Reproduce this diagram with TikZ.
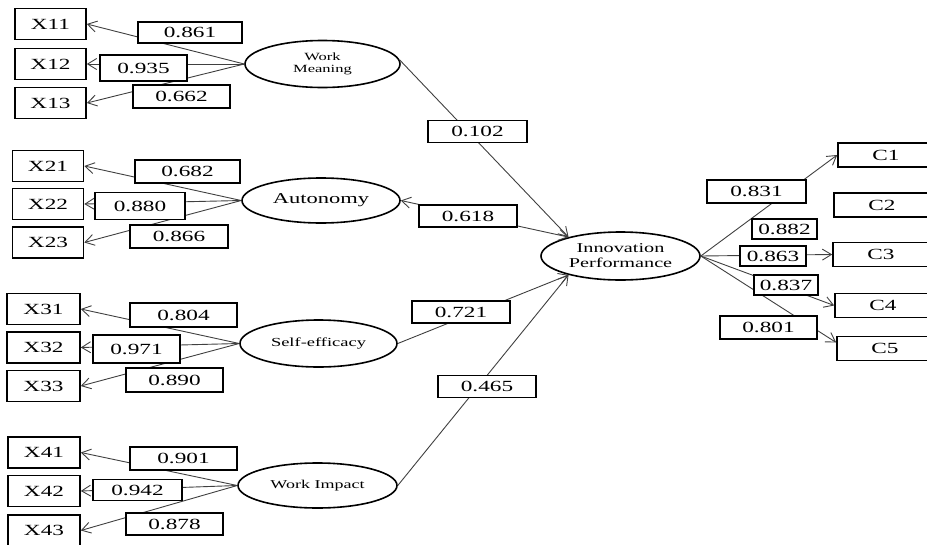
\documentclass[tikz,border=0pt]{standalone}
\usepackage{fontspec}
\setmainfont{Liberation Serif}[FakeStretch=1.5]
\usetikzlibrary{shapes.geometric,arrows.meta}

\tikzset{
  >={Straight Barb[length=9pt,width=11pt]},
  conn/.style={draw=black!75, line width=0.9pt, ->},
  itembox/.style={draw, line width=1.6pt, fill=white, minimum width=71pt,
    minimum height=31pt, inner sep=0pt, font=\fontsize{15.5}{16}\selectfont},
  cbox/.style={itembox, minimum width=96pt, minimum height=24pt},
  coef/.style={draw, line width=1.6pt, fill=white, inner sep=0pt,
    minimum height=22pt, font=\fontsize{15.5}{16}\selectfont},
  factor/.style={ellipse, draw, line width=1.6pt, fill=white, inner sep=0pt, align=center},
}

\begin{document}
\begin{tikzpicture}[x=1pt, y=-1pt]
\useasboundingbox (0,0) rectangle (927,544);

% observed indicators (left)
\node[itembox] (x11) at (50.5,24)  {X11};
\node[itembox] (x12) at (50.5,64)  {X12};
\node[itembox] (x13) at (50.5,103) {X13};
\node[itembox] (x21) at (48,166)   {X21};
\node[itembox] (x22) at (48,204)   {X22};
\node[itembox] (x23) at (48,242.5) {X23};
\node[itembox, minimum width=73pt] (x31) at (43.5,309)   {X31};
\node[itembox, minimum width=73pt] (x32) at (43.5,347.5) {X32};
\node[itembox, minimum width=73pt] (x33) at (43.5,386)   {X33};
\node[itembox, minimum width=72pt] (x41) at (44,452.5) {X41};
\node[itembox, minimum width=72pt] (x42) at (44,491)   {X42};
\node[itembox, minimum width=72pt] (x43) at (44,530.5) {X43};

% latent factors
\node[factor, minimum width=155pt, minimum height=47pt,
  font=\fontsize{11}{12}\selectfont] (wm) at (322.5,64) {Work\\Meaning};
\node[factor, minimum width=158pt, minimum height=45pt,
  font=\fontsize{15}{16}\selectfont] (aut) at (321,200.5) {Autonomy};
\node[factor, minimum width=157pt, minimum height=47pt,
  font=\fontsize{12.3}{13}\selectfont] (se) at (318.5,343.5) {Self-efficacy};
\node[factor, minimum width=159pt, minimum height=45pt,
  font=\fontsize{12}{13}\selectfont] (wi) at (317.5,485.5) {Work Impact};
\node[factor, minimum width=159pt, minimum height=48pt,
  font=\fontsize{13.5}{15}\selectfont] (ip) at (620.5,256) {Innovation\\Performance};

% outcome indicators (right)
\node[cbox] (c1) at (886,155)   {C1};
\node[cbox] (c2) at (882,205)   {C2};
\node[cbox] (c3) at (881,254.5) {C3};
\node[cbox] (c4) at (883,305.5) {C4};
\node[cbox] (c5) at (885,348.5) {C5};

% loadings
\draw[conn] (wm.west) -- (x11.east);
\draw[conn] (wm.west) -- (x12.east);
\draw[conn] (wm.west) -- (x13.east);
\draw[conn] (aut.west) -- (x21.east);
\draw[conn] (aut.west) -- (x22.east);
\draw[conn] (aut.west) -- (x23.east);
\draw[conn] (se.west) -- (x31.east);
\draw[conn] (se.west) -- (x32.east);
\draw[conn] (se.west) -- (x33.east);
\draw[conn] (wi.west) -- (x41.east);
\draw[conn] (wi.west) -- (x42.east);
\draw[conn] (wi.west) -- (x43.east);

% structural paths
\draw[conn] (wm.3) -- (ip.160);
\draw[conn, <->] (aut.east) -- (ip.160);
\draw[conn] (se.east) -- (ip.200);
\draw[conn] (wi.east) -- (ip.200);

% outcome loadings
\draw[conn] (ip.east) -- (c1.west);
\draw[conn] (ip.east) -- (c3.west);
\draw[conn] (ip.east) -- (c4.west);
\draw[conn] (ip.east) -- (c5.173);

% coefficient labels
\node[coef, minimum width=104pt, minimum height=21pt] (k11) at (190,32.5)  {0.861};
\node[coef, minimum width=87pt,  minimum height=26pt] (k12) at (143.5,68)  {0.935};
\node[coef, minimum width=97pt,  minimum height=23pt] (k13) at (181.5,96.5) {0.662};
\node[coef, minimum width=105pt, minimum height=23pt] (k21) at (187.5,171.5) {0.682};
\node[coef, minimum width=90pt,  minimum height=27pt] (k22) at (140,206)   {0.880};
\node[coef, minimum width=98pt,  minimum height=23pt] (k23) at (179,236.5) {0.866};
\node[coef, minimum width=107pt, minimum height=24pt] (k31) at (183.5,315) {0.804};
\node[coef, minimum width=87pt,  minimum height=28pt] (k32) at (136.5,349) {0.971};
\node[coef, minimum width=97pt,  minimum height=24pt] (k33) at (174.5,380) {0.890};
\node[coef, minimum width=107pt, minimum height=23pt] (k41) at (183.5,458.5) {0.901};
\node[coef, minimum width=89pt,  minimum height=21pt] (k42) at (137.5,490) {0.942};
\node[coef, minimum width=97pt,  minimum height=22pt] (k43) at (174.5,524) {0.878};

\node[coef, minimum width=99pt] (p1) at (477.5,131.5) {0.102};
\node[coef, minimum width=98pt] (p2) at (468,216)     {0.618};
\node[coef, minimum width=98pt] (p3) at (461,312)     {0.721};
\node[coef, minimum width=98pt] (p4) at (487,386.5)   {0.465};

\node[coef, minimum width=99pt, minimum height=23pt] (q1) at (756.5,191.5) {0.831};
\node[coef, minimum width=65pt, minimum height=20pt] (q2) at (784.5,229)   {0.882};
\node[coef, minimum width=66pt, minimum height=20pt] (q3) at (773,256)     {0.863};
\node[coef, minimum width=64pt, minimum height=20pt] (q4) at (786,285)     {0.837};
\node[coef, minimum width=97pt, minimum height=23pt] (q5) at (768.5,327.5) {0.801};
\end{tikzpicture}
\end{document}
